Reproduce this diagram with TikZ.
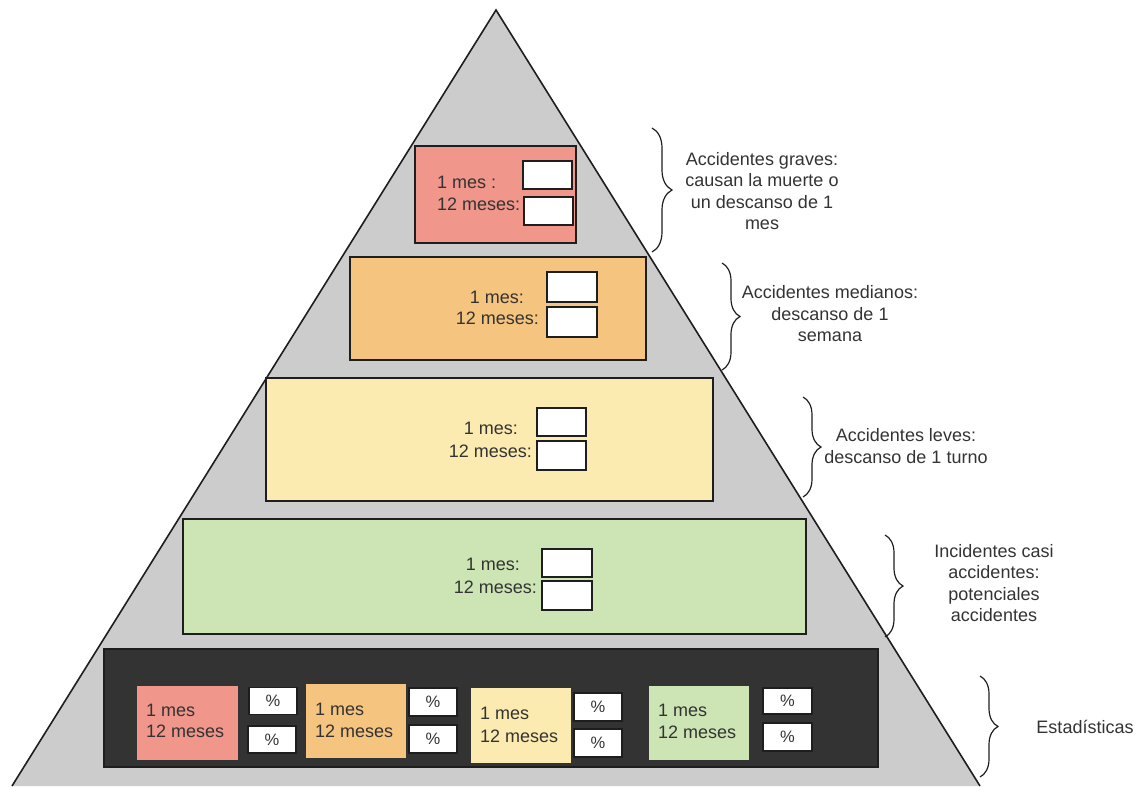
\documentclass[tikz,border=0pt]{standalone}
\usepackage{fontspec}
\setmainfont{Liberation Sans}
\usetikzlibrary{decorations.pathreplacing}
\definecolor{pyr}{HTML}{CCCCCC}
\definecolor{ink}{HTML}{333333}
\definecolor{edge}{HTML}{1E1E1E}
\definecolor{salmon}{HTML}{F0968A}
\definecolor{peach}{HTML}{F5C47F}
\definecolor{cream}{HTML}{FCEBB0}
\definecolor{mint}{HTML}{CDE5B4}
\definecolor{slate}{HTML}{333333}

\begin{document}
\begin{tikzpicture}[x=1pt,y=-1pt,
  font=\fontsize{18}{21.5}\selectfont, text=ink,
  tier/.style={draw=edge, line width=1.4pt, inner sep=0pt},
  slot/.style={draw=edge, line width=1.4pt, fill=white, inner sep=0pt},
  cell/.style={draw=none, inner sep=0pt, minimum width=100pt, minimum height=74pt},
  lbl/.style={inner sep=0pt},
  brc/.style={draw=edge, line width=1.2pt, decorate, decoration={brace, amplitude=18pt}},
  note/.style={align=center, inner sep=0pt},
  pct/.style={slot, font=\fontsize{16.5}{18}\selectfont, minimum width=48pt, minimum height=27pt}
]
\useasboundingbox (0,0) rectangle (1146,787);

% pyramid
\coordinate (apex) at (496,10);
\coordinate (bl) at (12,786);
\coordinate (br) at (980,786);
\fill[pyr] (apex) -- (br) -- (bl) -- cycle;
\draw[edge, line width=1.6pt, line join=miter] (bl) -- (apex) -- (br);

% tier 1: serious accidents
\node[tier, fill=salmon, minimum width=161pt, minimum height=97pt] (t1) at (495.5,194.5) {};
\node[slot, minimum width=49pt, minimum height=28pt] (t1a) at (547.5,175) {};
\node[slot, minimum width=49pt, minimum height=28pt] (t1b) at (548.5,211) {};
\node[lbl, anchor=base west] (t1m) at (437,188.5) {1 mes :};
\node[lbl, anchor=base west] (t1y) at (437,210.5) {12 meses:};

% tier 2: medium accidents
\node[tier, fill=peach, minimum width=296pt, minimum height=103pt] (t2) at (498,308.5) {};
\node[slot, minimum width=50pt, minimum height=30pt] (t2a) at (572,287) {};
\node[slot, minimum width=50pt, minimum height=30pt] (t2b) at (572,322) {};
\node[lbl, anchor=base east] (t2m) at (524,303.5) {1 mes:};
\node[lbl, anchor=base east] (t2y) at (539,324.5) {12 meses:};

% tier 3: minor accidents
\node[tier, fill=cream, minimum width=447pt, minimum height=123pt] (t3) at (489.5,439.5) {};
\node[slot, minimum width=49pt, minimum height=28pt] (t3a) at (561.5,422) {};
\node[slot, minimum width=49pt, minimum height=29pt] (t3b) at (561.5,455.5) {};
\node[lbl, anchor=base east] (t3m) at (518,434.5) {1 mes:};
\node[lbl, anchor=base east] (t3y) at (532,457.5) {12 meses:};

% tier 4: near misses
\node[tier, fill=mint, minimum width=623pt, minimum height=115pt] (t4) at (494.5,576.5) {};
\node[slot, minimum width=50pt, minimum height=28pt] (t4a) at (567,563) {};
\node[slot, minimum width=50pt, minimum height=29pt] (t4b) at (567,595.5) {};
\node[lbl, anchor=base east] (t4m) at (520,570.5) {1 mes:};
\node[lbl, anchor=base east] (t4y) at (537,593.5) {12 meses:};

% base: statistics
\node[tier, fill=slate, minimum width=774pt, minimum height=118pt] (t5) at (491,708) {};

\node[cell, fill=salmon, minimum width=101pt] (s1) at (187.5,723) {};
\node[lbl, anchor=base west] (s1m) at (146,716.5) {1 mes};
\node[lbl, anchor=base west] (s1y) at (146,737.5) {12 meses};
\node[pct] (p1a) at (273,701) {\%};
\node[pct] (p1b) at (272,739.5) {\%};

\node[cell, fill=peach] (s2) at (356,721) {};
\node[lbl, anchor=base west] (s2m) at (315,715.5) {1 mes};
\node[lbl, anchor=base west] (s2y) at (315,737.5) {12 meses};
\node[pct, minimum height=28pt] (p2a) at (433,702) {\%};
\node[pct, minimum height=28pt] (p2b) at (433,739) {\%};

\node[cell, fill=cream, minimum height=75pt] (s3) at (521,725.5) {};
\node[lbl, anchor=base west] (s3m) at (480,719.5) {1 mes};
\node[lbl, anchor=base west] (s3y) at (480,742.5) {12 meses};
\node[pct, minimum height=28pt] (p3a) at (598,707) {\%};
\node[pct, minimum height=28pt] (p3b) at (598,743) {\%};

\node[cell, fill=mint] (s4) at (699,723) {};
\node[lbl, anchor=base west] (s4m) at (658,716.5) {1 mes};
\node[lbl, anchor=base west] (s4y) at (658,738.5) {12 meses};
\node[pct, minimum width=49pt, minimum height=26pt] (p4a) at (787.5,701) {\%};
\node[pct, minimum width=49pt, minimum height=28pt] (p4b) at (787.5,737) {\%};

% braces and their notes
\coordinate (b1s) at (652,128);  \coordinate (b1e) at (652,252);
\coordinate (b2s) at (722,263);  \coordinate (b2e) at (722,370);
\coordinate (b3s) at (803,397);  \coordinate (b3e) at (803,497);
\coordinate (b4s) at (885,535);  \coordinate (b4e) at (885,637);
\coordinate (b5s) at (980,676);  \coordinate (b5e) at (980,777);
\draw[brc, decoration={amplitude=20pt}] (b1s) -- (b1e);
\draw[brc] (b2s) -- (b2e);
\draw[brc] (b3s) -- (b3e);
\draw[brc] (b4s) -- (b4e);
\draw[brc] (b5s) -- (b5e);

\node[note] (n1) at (762,191) {Accidentes graves:\\causan la muerte o\\un descanso de 1\\mes};
\node[note] (n2) at (830,314) {Accidentes medianos:\\descanso de 1\\semana};
\node[note] (n3) at (906,446) {Accidentes leves:\\descanso de 1 turno};
\node[note] (n4) at (994,583) {Incidentes casi\\accidentes:\\potenciales\\accidentes};
\node[note] (n5) at (1085,727) {Estadísticas};
\end{tikzpicture}
\end{document}
